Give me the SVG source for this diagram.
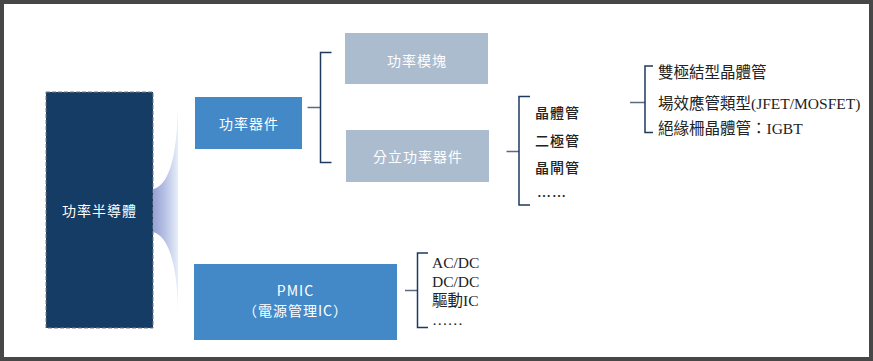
<svg xmlns="http://www.w3.org/2000/svg" width="873" height="361" viewBox="0 0 873 361">
<defs>
<linearGradient id="wedge" x1="0" y1="0" x2="1" y2="0">
<stop offset="0" stop-color="#98a0d4"/>
<stop offset="0.5" stop-color="#b9c3e6"/>
<stop offset="1" stop-color="#e6eef9"/>
</linearGradient>
</defs>
<style>
.frame{fill:#ffffff;stroke:#474747;stroke-width:4}
.dark{fill:#143c64;stroke:#7a7a7a;stroke-width:1;stroke-dasharray:4 2}
.blue{fill:#4389c8}
.gray{fill:#acbccf}
.lbl{font-family:"Noto Sans CJK TC","Noto Sans",sans-serif;font-size:14px;fill:#ffffff;text-anchor:middle;dominant-baseline:central;letter-spacing:1px}
.item{font-family:"Noto Sans CJK TC","Noto Sans",sans-serif;font-size:14px;fill:#222222;dominant-baseline:central;letter-spacing:1px;font-weight:500}
.serif{font-family:"Liberation Serif","Noto Sans CJK TC",serif;font-size:15.5px;fill:#222222;dominant-baseline:central}
.br{fill:none;stroke:#1e3a5c;stroke-width:1.5}
.stub{fill:none;stroke:#5a6a80;stroke-width:1.5}
</style>
<rect class="frame" x="2" y="2" width="869" height="357"/>
<g id="power-semiconductor">
<rect class="dark" x="46" y="92" width="107" height="236"/>
<text class="lbl" x="99.5" y="210">功率半導體</text>
</g>
<g id="wedge-shape">
<path d="M178,105 C177,160 168,186 153,189 L153,232 C168,236 177,262 178,310 Z" fill="url(#wedge)"/>
</g>
<g id="power-device">
<rect class="blue" x="195" y="97" width="107" height="52"/>
<text class="lbl" x="249" y="123">功率器件</text>
</g>
<g id="power-module">
<rect class="gray" x="345" y="33" width="143" height="51"/>
<text class="lbl" x="417" y="60">功率模塊</text>
</g>
<g id="discrete-device">
<rect class="gray" x="346" y="130" width="143" height="52"/>
<text class="lbl" x="418" y="156">分立功率器件</text>
</g>
<g id="pmic">
<rect class="blue" x="194" y="264" width="203" height="76"/>
<text class="lbl" x="295.5" y="290" letter-spacing="0">PMIC</text>
<text class="lbl" x="295.5" y="310" letter-spacing="0">（電源管理IC）</text>
</g>
<g id="discrete-list">
<text class="item" x="535" y="112">晶體管</text>
<text class="item" x="535" y="140">二極管</text>
<text class="item" x="535" y="167">晶閘管</text>
<text class="item" x="537" y="195" font-weight="700">……</text>
</g>
<g id="transistor-list">
<text class="serif" x="658" y="72">雙極結型晶體管</text>
<text class="serif" x="658" y="103">場效應管類型(JFET/MOSFET)</text>
<text class="serif" x="658" y="128">絕緣柵晶體管：IGBT</text>
</g>
<g id="pmic-list">
<text class="serif" x="432" y="262">AC/DC</text>
<text class="serif" x="432" y="281">DC/DC</text>
<text class="serif" x="432" y="300">驅動IC</text>
<text class="serif" x="432" y="319">……</text>
</g>
<g id="connectors">
<path class="stub" d="M307.5,107.5 H320.5"/>
<path class="br" d="M331.5,52.5 H320.5 V162.5 H331.5"/>
<path class="stub" d="M506.5,151.5 H519"/>
<path class="br" d="M530,96.5 H519 V205 H530"/>
<path class="stub" d="M630,102.5 H645"/>
<path class="br" d="M653,66 H645 V132.5 H653"/>
<path class="stub" d="M405,290.5 H417.5"/>
<path class="br" d="M428,253 H417.5 V327.5 H428"/>
</g>
</svg>
